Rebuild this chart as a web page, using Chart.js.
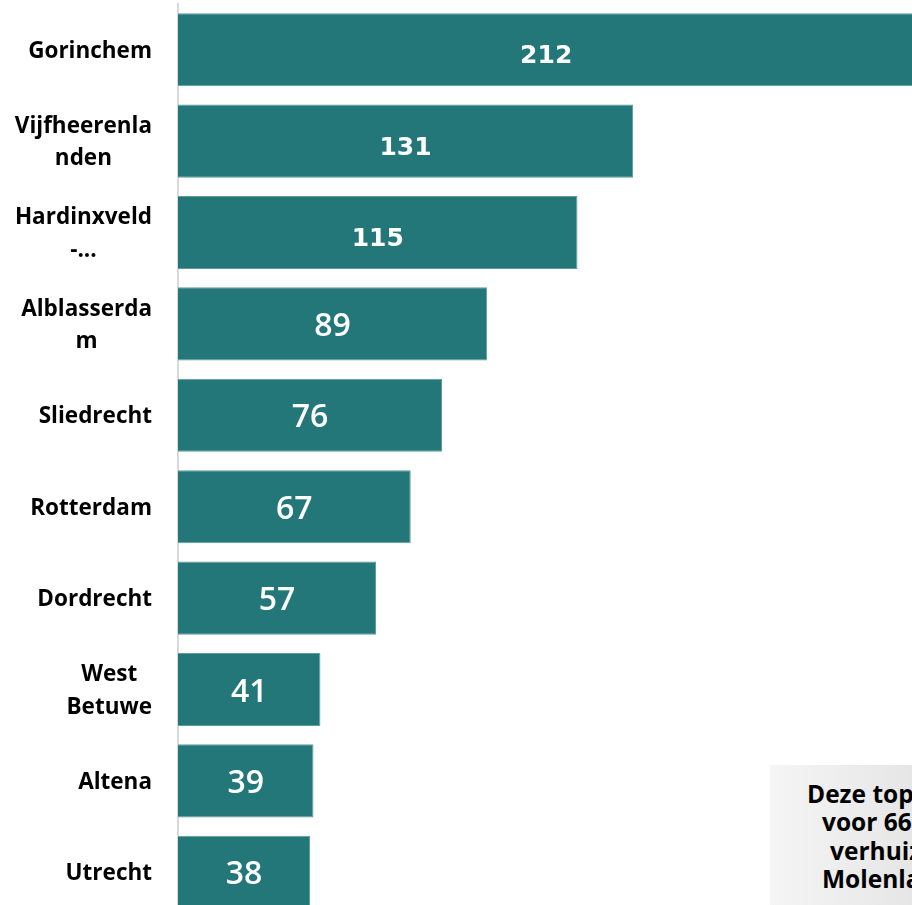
<!DOCTYPE html>
<html>
<head>
<meta charset="utf-8">
<script src="https://cdn.jsdelivr.net/npm/chart.js@4.4.1/dist/chart.umd.min.js"></script>
<style>
  html, body { margin: 0; padding: 0; width: 912px; height: 905px; overflow: hidden; background: #fff; }
  #wrap { position: absolute; left: 0; top: 0; width: 912px; height: 918px; }
  #note {
    position: absolute; left: 770px; top: 765px; width: 320px; height: 200px;
    background: linear-gradient(to right, #f5f5f5 0px, #e6e6e6 142px, #dcdcdc 320px);
    font: 700 24.5px "Open Sans", sans-serif; color: #000;
  }
  #note div { position: absolute; white-space: nowrap; line-height: 28px; }
</style>
</head>
<body>
<div id="wrap"><canvas id="chart"></canvas></div>
<div id="note">
  <div style="left:37px; top:15px">Deze top 10 is goed</div>
  <div style="left:52px; top:43px">voor 66% van alle</div>
  <div style="left:60px; top:72px">verhuizingen uit</div>
  <div style="left:52px; top:100px">Molenlanden</div>
</div>
<script>
// categories (multi-line, as wrapped in the original)
const categories = [
  ["Gorinchem"],
  ["Vijfheerenla", "nden"],
  ["Hardinxveld", "-..."],
  ["Alblasserda", "m"],
  ["Sliedrecht"],
  ["Rotterdam"],
  ["Dordrecht"],
  ["West", "Betuwe"],
  ["Altena"],
  ["Utrecht"]
];
const values = [212, 131, 115, 89, 76, 67, 57, 41, 39, 38];

// category labels: block right aligned, lines centered inside the block
// value labels: white, centered in the bar
const labelPlugin = {
  id: "labels",
  afterDatasetsDraw(chart) {
    const ctx = chart.ctx;
    const yScale = chart.scales.y;
    ctx.save();

    ctx.fillStyle = "#000";
    ctx.font = '700 22.5px "Open Sans"';
    ctx.textAlign = "center";
    ctx.textBaseline = "alphabetic";
    chart.data.labels.forEach((lines, i) => {
      const w = Math.max(...lines.map(l => ctx.measureText(l).width));
      const cx = 152 - w / 2;
      const cy = yScale.getPixelForTick(i);
      lines.forEach((l, j) => {
        ctx.fillText(l, cx, cy + 8 + (j - (lines.length - 1) / 2) * 32.5);
      });
    });

    ctx.fillStyle = "#fff";
    chart.getDatasetMeta(0).data.forEach((bar, i) => {
      const v = values[i];
      let off;
      if (v > 100) {
        ctx.font = 'bold 25px "DejaVu Sans"';
        off = 13.6;
      } else {
        ctx.font = '600 32px "Open Sans"';
        off = 12;
      }
      ctx.fillText(String(v), (bar.base + bar.x) / 2, bar.y + off);
    });

    ctx.restore();
  }
};

new Chart(document.getElementById("chart"), {
  type: "bar",
  data: {
    labels: categories,
    datasets: [{
      data: values,
      backgroundColor: "#237779",
      borderColor: "#5e9d9e",
      borderWidth: 1,
      barPercentage: 0.8,
      categoryPercentage: 1.0
    }]
  },
  options: {
    indexAxis: "y",
    responsive: true,
    maintainAspectRatio: false,
    animation: false,
    layout: { padding: { top: 4, right: 0, bottom: 0, left: 0 } },
    plugins: {
      legend: { display: false },
      tooltip: { enabled: false }
    },
    scales: {
      x: {
        display: false,
        min: 0,
        max: 211.3
      },
      y: {
        afterFit(scale) { scale.width = 178; },
        grid: { display: false, drawTicks: false },
        border: { display: true, color: "#d9d9d9", width: 2 },
        ticks: { display: false }
      }
    }
  },
  plugins: [labelPlugin]
});
</script>
</body>
</html>
